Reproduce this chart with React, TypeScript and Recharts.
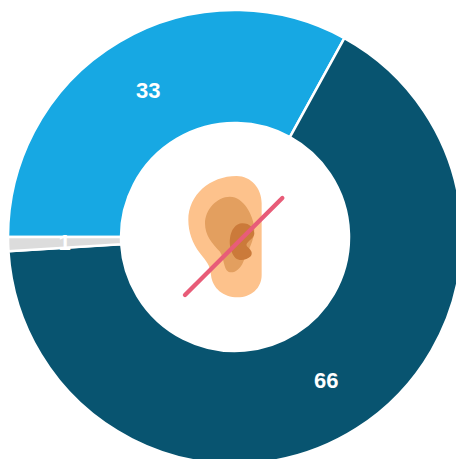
import React from "react";
import { PieChart, Pie, Cell } from "recharts";

const categories = ["Blue", "Dark", "Grey"];
const values = [33, 66, 1];
const colors = ["#17A8E3", "#085470", "#DCDCDC"];
const rows = categories.map((name, i) => ({ name, value: values[i] }));

const RAD = Math.PI / 180;
const renderLabel = (p: any) => {
  const r = (p.innerRadius + p.outerRadius) / 2;
  const x = p.cx + r * Math.cos(-p.midAngle * RAD);
  const y = p.cy + r * Math.sin(-p.midAngle * RAD);
  return (
    <text x={x} y={y} fill="#fff" textAnchor="middle" dominantBaseline="central"
      style={{ fontFamily: "Liberation Sans, Arial, sans-serif", fontSize: 22, fontWeight: 700 }}>
      {p.value}
    </text>
  );
};

const Ear = () => (
  <svg width={456} height={459} style={{ position: "absolute", left: 0, top: 0 }}>
    <g transform="translate(165,160) scale(0.3333)">
      <path d="M215 48 C258 48 290 85 290 130 L290 345 C290 385 258 412 218 412 C175 412 142 385 138 345 C135 315 125 305 105 280 C82 250 70 215 70 180 C70 105 135 48 215 48 Z" fill="#FDC28C" />
      <path d="M195 110 C235 110 265 165 268 205 C270 240 245 280 235 305 C225 330 205 342 190 335 C175 325 178 295 165 275 C140 250 120 225 120 190 C120 150 155 110 195 110 Z" fill="#E39F5F" />
      <path d="M232 190 C255 190 268 205 268 222 C265 240 240 245 245 258 C255 268 265 275 258 288 C245 300 225 305 212 295 C198 280 192 255 195 235 C198 210 212 190 232 190 Z" fill="#CB7A3A" />
      <line x1="60" y1="405" x2="352" y2="114" stroke="#E85C78" strokeWidth={13} strokeLinecap="round" />
    </g>
  </svg>
);

export default function App() {
  return (
    <div style={{ position: "fixed", left: 0, top: 0, width: 456, height: 459, overflow: "hidden", background: "#fff" }}>
      <PieChart width={480} height={480} margin={{ top: 0, right: 0, bottom: 0, left: 0 }}>
        <Pie
          data={rows}
          dataKey="value"
          cx={235}
          cy={237}
          innerRadius={114}
          outerRadius={227}
          startAngle={180}
          endAngle={-180}
          stroke="#fff"
          strokeWidth={2.5}
          label={renderLabel}
          labelLine={false}
          isAnimationActive={false}
        >
          {rows.map((r, i) => (
            <Cell key={r.name} fill={colors[i]} />
          ))}
        </Pie>
      </PieChart>
      <Ear />
    </div>
  );
}
